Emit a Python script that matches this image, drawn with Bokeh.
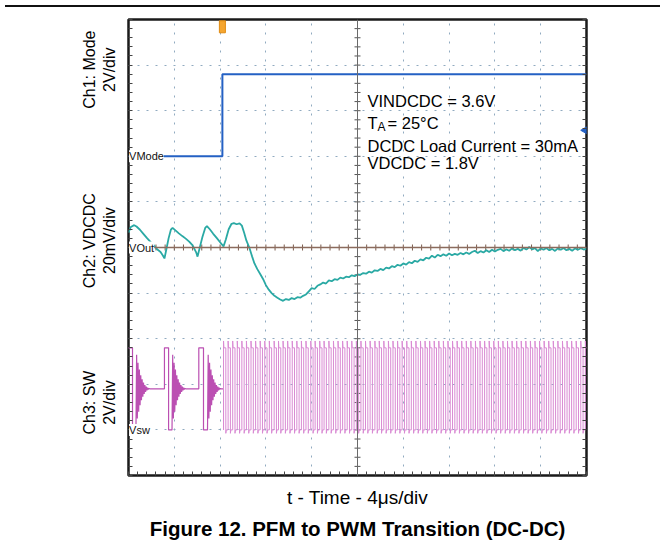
import numpy as np
from bokeh.plotting import figure
from bokeh.models import Range1d, FixedTicker, Label, Span, Div, LinearAxis
from bokeh.layouts import column, row
from bokeh.embed import file_html
from bokeh.resources import INLINE
from bokeh.core.properties import value

FONT = "Liberation Sans"

# ---------------- data ----------------
# scope screen: 10 horizontal divisions of 4 us, 10 vertical divisions
x_div_ticks = [0, 4, 8, 12, 16, 20, 24, 28, 32, 36, 40]
y_div_ticks = [-5, -4, -3, -2, -1, 0, 1, 2, 3, 4, 5]

# Ch1: Mode, 2 V/div, ground reference at +2 div
ch1_ref_div = 2.0
ch1_v_per_div = 2.0
ch1_t = [0.0, 8.2, 8.2, 40.0]
ch1_v = [0.0, 0.0, 3.6, 3.6]
trigger_t = 8.2

# Ch2: VDCDC (AC), 20 mV/div, reference at 0 div
ch2_ref_div = 0.0
ch2_mv_per_div = 20.0
ch2_t = [0.0, 0.2, 0.5, 0.7, 1.0, 1.3, 1.6, 1.9, 2.2, 2.5, 2.8, 3.0, 3.14, 3.3, 3.5, 3.7, 3.85,
         4.1, 4.4, 4.7, 5.0, 5.3, 5.6, 5.9, 6.03, 6.2, 6.45, 6.7, 6.85, 7.1, 7.4, 7.7, 8.0, 8.3,
         8.5, 8.75, 9.0, 9.2, 9.45, 9.7, 9.9, 10.1, 10.3, 10.55, 10.8, 11.0, 11.25, 11.5, 11.75,
         12.0, 12.25, 12.5, 12.75, 13.0, 13.25, 13.5, 13.75, 14.0, 14.25, 14.5, 14.75, 15.0,
         15.25, 15.5, 15.75, 16.0, 16.25, 16.5, 16.75, 17.0, 17.25, 17.5, 17.75, 18.0, 18.25,
         18.5, 18.75, 19.0, 19.25, 19.5, 19.75, 20.0, 20.25, 20.5, 20.75, 21.0, 21.25, 21.5,
         21.75, 22.0, 22.25, 22.5, 22.75, 23.0, 23.25, 23.5, 23.75, 24.0, 24.25, 24.5, 24.75,
         25.0, 25.25, 25.5, 25.75, 26.0, 26.25, 26.5, 26.75, 27.0, 27.25, 27.5, 27.75, 28.0,
         28.25, 28.5, 28.75, 29.0, 29.25, 29.5, 29.75, 30.0, 30.25, 30.5, 30.75, 31.0, 31.25,
         31.5, 31.75, 32.0, 32.25, 32.5, 32.75, 33.0, 33.25, 33.5, 33.75, 34.0, 34.25, 34.5,
         34.75, 35.0, 35.25, 35.5, 35.75, 36.0, 36.25, 36.5, 36.75, 37.0, 37.25, 37.5, 37.75,
         38.0, 38.25, 38.5, 38.75, 39.0, 39.25, 39.5, 39.75, 40.0]
ch2_mv = [6.5, 9.0, 9.8, 9.2, 7.8, 6.0, 4.2, 2.6, 1.0, -0.8, -2.0, -3.5, -4.8, -1.0, 4.0, 7.8, 8.6,
          7.5, 6.2, 5.0, 3.9, 2.6, 0.9, -2.0, -4.0, -0.5, 4.5, 8.6, 9.4, 8.0, 6.0, 4.2, 2.3, 0.5,
          3.5, 8.0, 10.4, 10.7, 10.2, 10.6, 9.6, 6.5, 3.0, 0.0, -4.0, -7.0, -9.5, -11.6, -13.8,
          -16.5, -18.5, -20.0, -21.2, -22.0, -22.8, -23.4, -22.6, -23.0, -22.2, -22.6, -21.8, -22.0,
          -21.2, -20.6, -19.2, -17.8, -18.2, -16.8, -16.2, -15.4, -15.8, -14.4, -14.8, -13.9, -14.2,
          -13.2, -13.6, -12.8, -13.0, -12.2, -12.6, -11.8, -12.0, -11.2, -11.5, -10.6, -11.0, -10.0,
          -10.3, -9.4, -9.9, -8.8, -9.2, -8.2, -8.6, -7.6, -8.0, -7.0, -7.5, -6.4, -6.9,
          -5.8, -6.3, -5.2, -5.6, -4.5, -4.9, -3.6, -4.4, -3.2, -3.8, -3.0, -3.6, -2.6,
          -3.4, -2.8, -3.2, -2.4, -3.0, -2.2, -2.8, -2.0, -1.4, -2.4, -1.6, -2.2, -1.2,
          -2.0, -1.0, -1.8, -1.0, -0.6, -1.6, -0.8, -1.4, -0.4, -1.2, -0.6, -1.4, -0.2,
          -0.9, 0.2, -0.8, -0.3, -1.6, -0.4, -1.0, -0.2, -1.2, -0.6, -1.5, -0.4, -1.0,
          -0.2, -1.2, -0.6, -1.4, -0.4, -1.0, -0.3, -0.9, -0.5]

# Ch3: SW, 2 V/div, ground reference at -4 div
ch3_ref_div = -4.0
ch3_v_per_div = 2.0
sw_high_v = 3.6
sw_idle_v = 1.8
sw_low_v = 0.0
pfm_rise_t = [-0.1, 3.14, 6.14]
pfm_fall_t = [0.35, 3.50, 6.55]
pfm_ring_t = [0.65, 3.80, 6.90]
ring_offsets_v = [1.5, -1.3, 1.15, -1.0, 0.85, -0.72, 0.6, -0.5, 0.42, -0.35, 0.28, -0.22,
                  0.17, -0.13, 0.1, -0.07, 0.05, -0.03, 0.02, 0.0]
ring_step_us = 0.06
pwm_rise_t = [8.30, 8.70, 9.10, 9.50, 9.90, 10.30, 10.70, 11.10, 11.50, 11.90, 12.30, 12.72,
              13.10, 13.50, 13.90, 14.30, 14.70, 15.10, 15.50, 15.92, 16.30, 16.70, 17.08, 17.50,
              17.90, 18.30, 18.70, 19.10, 19.50, 19.90, 20.30, 20.70, 21.10, 21.52, 21.90, 22.30,
              22.70, 23.10, 23.50, 23.90, 24.30, 24.70, 25.10, 25.50, 25.90, 26.30, 26.70, 27.10,
              27.50, 27.90, 28.30, 28.70, 29.10, 29.50, 29.90, 30.30, 30.70, 31.10, 31.50, 31.90,
              32.30, 32.70, 33.10, 33.50, 33.90, 34.30, 34.70, 35.10, 35.50, 35.90, 36.30, 36.70,
              37.10, 37.50, 37.90, 38.30, 38.70, 39.10, 39.50, 39.90]
pwm_high_us = 0.2

cond_lines = ["VINDCDC = 3.6V", "DCDC Load Current = 30mA", "VDCDC = 1.8V"]
channel_titles = ["Ch1: Mode\n2V/div", "Ch2: VDCDC\n20mV/div", "Ch3: SW\n2V/div"]
channel_title_div = [3.9, 0.15, -3.4]

# ---------------- main scope figure ----------------
p = figure(frame_width=458, frame_height=456, output_backend="svg", toolbar_location=None,
           x_range=Range1d(0, 40), y_range=Range1d(-5, 5),
           min_border_left=6, min_border_right=64, min_border_top=7, min_border_bottom=0,
           title_location="below", background_fill_color="white", border_fill_color="white")
p.outline_line_color = "#1a1a1a"
p.outline_line_width = 2.5
p.outline_line_alpha = 1.0

# grid (dotted)
p.xgrid.ticker = FixedTicker(ticks=x_div_ticks)
p.ygrid.ticker = FixedTicker(ticks=y_div_ticks)
for g in (p.xgrid, p.ygrid):
    g.grid_line_color = "#90aac0"
    g.grid_line_dash = "2 7"
    g.grid_line_width = 1

x_minor = list(np.round(np.arange(0, 40.01, 0.8), 3))
y_minor = list(np.round(np.arange(-5, 5.01, 0.2), 3))

def style_axis(ax):
    ax.axis_line_color = None
    ax.major_tick_in = 0
    ax.major_tick_out = 0
    ax.minor_tick_in = 4
    ax.minor_tick_out = 0
    ax.minor_tick_line_color = "#444444"
    ax.major_label_standoff = 0

p.xaxis.ticker = FixedTicker(ticks=[], minor_ticks=x_minor)
p.yaxis.ticker = FixedTicker(ticks=[], minor_ticks=y_minor)
style_axis(p.xaxis[0])
style_axis(p.yaxis[0])
p.xaxis.axis_label = "t - Time - 4\u03bcs/div"
p.xaxis.axis_label_text_font = FONT
p.xaxis.axis_label_text_font_style = "normal"
p.xaxis.axis_label_text_font_size = "19px"
p.xaxis.axis_label_text_color = "black"
p.xaxis.axis_label_standoff = 11

ra = LinearAxis(ticker=FixedTicker(ticks=[], minor_ticks=y_minor))
style_axis(ra)
p.add_layout(ra, "right")

p.title.text = "Figure 12. PFM to PWM Transition (DC-DC)"
p.title.align = "center"
p.title.text_font = FONT
p.title.text_font_style = "bold"
p.title.text_font_size = "20.5px"
p.title.text_color = "black"
p.title.standoff = 8

# center cross
p.add_layout(Span(location=20, dimension="height", line_color="#6a6a6a", line_width=1))
p.add_layout(Span(location=0, dimension="width", line_color="#8b6b5d", line_width=1.5))
cx = 20.0
dx = 3 * 4 / 45.8
dy = 3 / 45.6
ty = [v for v in y_minor if -5 < v < 5]
p.segment(x0=[cx - dx] * len(ty), x1=[cx + dx] * len(ty), y0=ty, y1=ty, line_color="#555555", line_width=1)
tx = [v for v in x_minor if 0 < v < 40]
p.segment(x0=tx, x1=tx, y0=[-dy] * len(tx), y1=[dy] * len(tx), line_color="#7a5b4d", line_width=1)

# ---------------- Ch3: SW ----------------
sw_t, sw_v = [], []
for r, f, g in zip(pfm_rise_t, pfm_fall_t, pfm_ring_t):
    sw_t += [r, r, f, f, g]
    sw_v += [sw_idle_v, sw_high_v, sw_high_v, sw_low_v, sw_low_v]
    for k, off in enumerate(ring_offsets_v):
        sw_t.append(g + ring_step_us * (k + 1))
        sw_v.append(sw_idle_v + off)
sw_t.append(pwm_rise_t[0])
sw_v.append(sw_idle_v)

pw_t, pw_v = [], []
for r in pwm_rise_t:
    pw_t += [r, r, r + 0.03, r + pwm_high_us, r + pwm_high_us, r + pwm_high_us + 0.04]
    pw_v += [sw_low_v, sw_high_v + 0.3, sw_high_v, sw_high_v, sw_low_v - 0.15, sw_low_v]
pw_t = [pwm_rise_t[0]] + pw_t + [40.5]
pw_v = [sw_idle_v] + pw_v + [sw_low_v]

def v_to_div(vals, ref, per):
    return [ref + v / per for v in vals]

p.line(sw_t, v_to_div(sw_v, ch3_ref_div, ch3_v_per_div), line_color="#bb4fb2", line_width=1.2)
p.line(pw_t, v_to_div(pw_v, ch3_ref_div, ch3_v_per_div), line_color="#d98ad3", line_width=1.0)

# ---------------- Ch2 ----------------
p.line(ch2_t, v_to_div(ch2_mv, ch2_ref_div, ch2_mv_per_div), line_color="#2aa9a4", line_width=1.8)

# ---------------- Ch1 ----------------
p.line(ch1_t, v_to_div(ch1_v, ch1_ref_div, ch1_v_per_div), line_color="#2461c4", line_width=2)
p.rect(x=[trigger_t], y=[4.84], width=6, height=12, width_units="screen", height_units="screen",
       fill_color="#f5a630", line_color="#e08a10")
p.scatter(x=[39.85], y=[2.57], marker="triangle", angle=np.pi / 2, size=7,
          fill_color="#2461c4", line_color="#2461c4")

# channel reference labels
for txt, yy in [("VMode", ch1_ref_div), ("VOut", ch2_ref_div), ("Vsw", ch3_ref_div)]:
    p.add_layout(Label(x=0.05, y=yy, text=txt, text_font=FONT, text_font_size="11px",
                       text_color="#111111", text_baseline="middle", text_align="left",
                       background_fill_color="white", background_fill_alpha=1.0))

# conditions text
def lbl(x, y, t, size="16.5px"):
    p.add_layout(Label(x=x, y=y, text=t, text_font=FONT, text_font_size=size,
                       text_color="black", text_baseline="alphabetic", text_align="left"))

lbl(20.87, 3.22, cond_lines[0])
lbl(20.87, 2.74, "T")
lbl(21.75, 2.635, "A", "12px")
lbl(22.62, 2.74, "= 25\u00b0C")
lbl(20.87, 2.215, cond_lines[1])
lbl(20.87, 1.86, cond_lines[2])

# ---------------- left strip with the channel titles ----------------
lf = figure(frame_width=122, frame_height=456, output_backend="svg", toolbar_location=None,
            x_range=Range1d(0, 122), y_range=Range1d(-5, 5),
            min_border_left=0, min_border_right=0, min_border_top=7, min_border_bottom=0,
            background_fill_color="white", border_fill_color="white")
lf.axis.visible = False
lf.grid.visible = False
lf.outline_line_color = None
lf.text(x=[99] * 3, y=channel_title_div, text=channel_titles, angle=np.pi / 2,
        text_align="center", text_baseline="middle", text_font=value(FONT),
        text_font_size="16px", text_color="black", text_line_height=1.15)

rule = Div(text="", width=655, height=2, styles={"background-color": "#111111"})
layout = column(rule, row(lf, p))
open("out.html", "w").write(file_html(layout, INLINE))
